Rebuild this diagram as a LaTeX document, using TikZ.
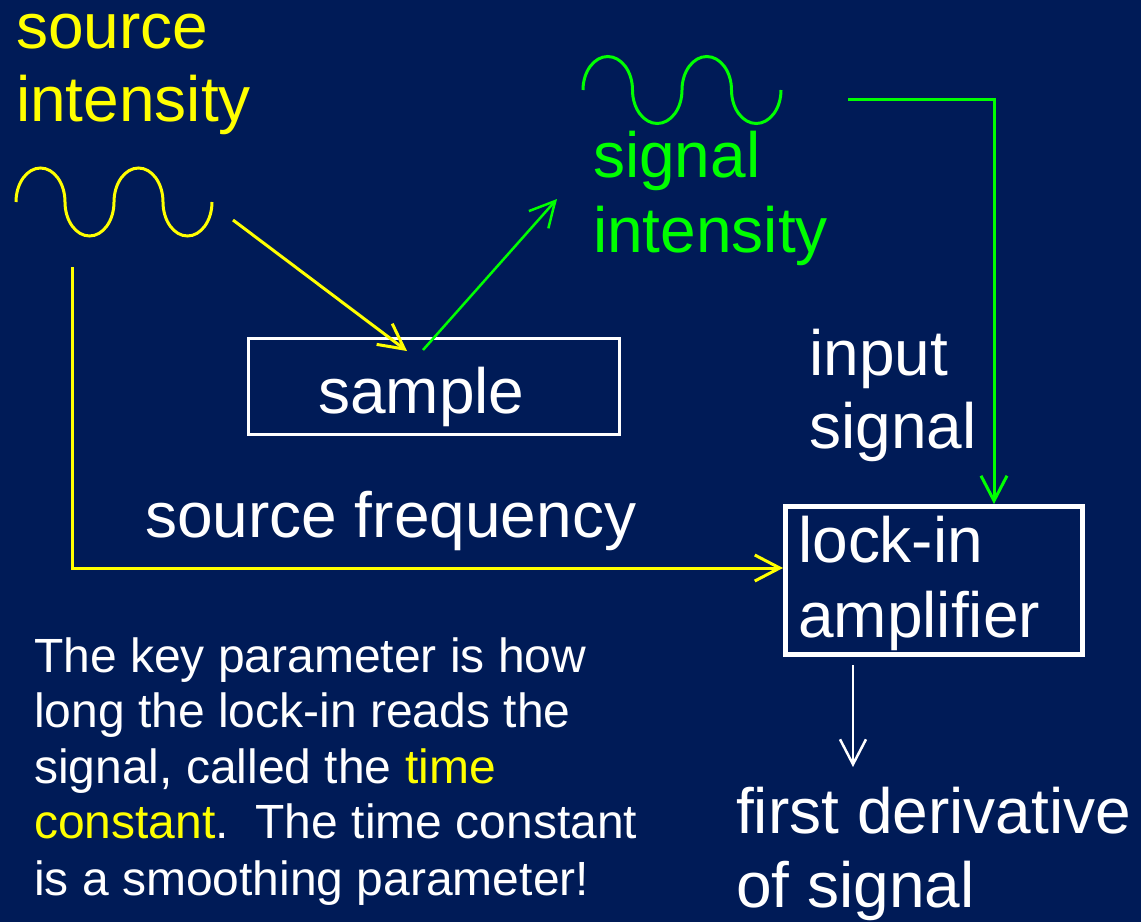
\documentclass[tikz,border=0pt]{standalone}
\usepackage{fontspec}
\setmainfont{Liberation Sans}
\usetikzlibrary{arrows.meta}
\definecolor{bg}{RGB}{0,27,87}
\definecolor{ylw}{RGB}{255,255,0}
\definecolor{grn}{RGB}{0,255,0}
\tikzset{
  big/.style={font=\fontsize{64}{74}\selectfont, inner sep=0pt, anchor=base west},
  small/.style={font=\fontsize{48}{56}\selectfont, inner sep=0pt, anchor=base west, text=white},
  wire/.style={line width=3pt},
  tip/.style={-{Straight Barb[length=25pt,width=26pt]}},
  wave/.style={line width=3pt},
  framebox/.style={draw=white, inner sep=0pt}
}
\begin{document}
\begin{tikzpicture}[x=1pt,y=-1pt]
\useasboundingbox (0,0) rectangle (1141,922);
\fill[bg] (0,0) rectangle (1141,922);

% labels
\node[big,text=ylw] (srcA) at (16,48) {source};
\node[big,text=ylw] (srcB) at (16,121) {intensity};
\node[big,text=grn] (sigA) at (593,177) {signal};
\node[big,text=grn] (sigB) at (593,252) {intensity};
\node[big,text=white] (inA) at (809,375) {input};
\node[big,text=white] (inB) at (809,448) {signal};
\node[big,text=white] (freq) at (145,537) {source frequency};
\node[big,text=white] (outA) at (736,833) {first derivative};
\node[big,text=white] (outB) at (736,907) {of signal};

% boxes
\node[framebox,line width=3pt,minimum width=371pt,minimum height=96pt] (sample) at (434,386.5) {};
\node[big,text=white] (sampleT) at (318,413) {sample};
\node[framebox,line width=5pt,minimum width=297pt,minimum height=148pt] (lockin) at (934,580.5) {};
\node[big,text=white] (lockA) at (798,562) {lock-in};
\node[big,text=white] (lockB) at (798,637) {amplifier};

% waves
\draw[wave,ylw] (16,202)
  arc[start angle=180,end angle=0,x radius=24.5pt,y radius=34pt]
  arc[start angle=180,end angle=360,x radius=24.5pt,y radius=34pt]
  arc[start angle=180,end angle=0,x radius=24.5pt,y radius=34pt]
  arc[start angle=180,end angle=360,x radius=24.5pt,y radius=34pt];
\draw[wave,grn] (583,90)
  arc[start angle=180,end angle=0,x radius=24.75pt,y radius=33.5pt]
  arc[start angle=180,end angle=360,x radius=24.75pt,y radius=33.5pt]
  arc[start angle=180,end angle=0,x radius=24.75pt,y radius=33.5pt]
  arc[start angle=180,end angle=360,x radius=24.75pt,y radius=33.5pt];

% connector ends
\coordinate (srcOut) at (233,220);
\coordinate (sampleIn) at (407,351);
\coordinate (sampleOut) at (423,350);
\coordinate (sigIn) at (557,199);
\coordinate (sigOut) at (848,99);
\coordinate (srcTap) at (72,267);
\coordinate (result) at (853,767);

% connectors
\draw[wire,ylw,tip] (srcOut) -- (sampleIn);
\draw[wire,grn,line width=2.5pt,tip] (sampleOut) -- (sigIn);
\draw[wire,grn,tip] (sigOut) -| ([xshift=60pt]lockin.north);
\draw[wire,ylw,tip] (srcTap) |- ([yshift=12.5pt]lockin.west);
\draw[wire,white,line width=2.5pt,tip] ([xshift=-81pt,yshift=-8pt]lockin.south) -- (result);

% paragraph
\node[small] (p1) at (34,672) {The key parameter is how};
\node[small] (p2) at (34,727) {long the lock-in reads the};
\node[small] (p3) at (34,783) {signal, called the \textcolor{ylw}{time}};
\node[small] (p4) at (34,838) {\textcolor{ylw}{constant}.\ \ The time constant};
\node[small] (p5) at (34,895) {is a smoothing parameter!};
\end{tikzpicture}
\end{document}
